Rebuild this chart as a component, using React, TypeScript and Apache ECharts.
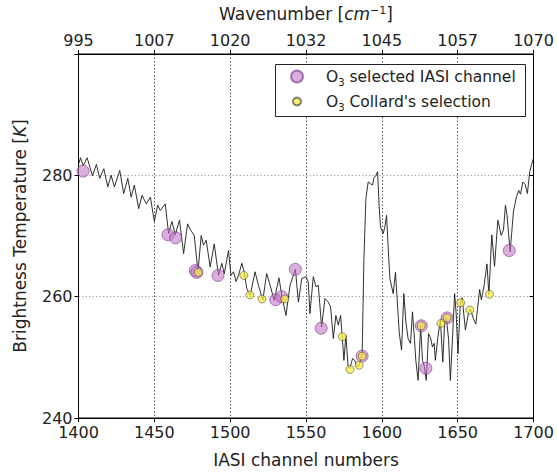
import React, { useEffect, useRef } from 'react';
import * as echarts from 'echarts';

const lineChannels = [
  1400.2, 1401.3, 1403.1, 1405.7, 1409.2, 1411.8, 1414.0, 1416.7, 1419.3, 1421.5,
  1423.7, 1427.2, 1429.8, 1432.5, 1434.7, 1436.8, 1439.7, 1441.9, 1444.7, 1447.4,
  1450.0, 1452.2, 1453.9, 1457.2, 1459.4, 1461.6, 1463.8, 1466.6, 1469.3, 1471.9,
  1474.1, 1476.3, 1478.8, 1480.9, 1482.4, 1484.2, 1486.8, 1489.5, 1492.3, 1494.5,
  1496.1, 1498.9, 1500.5, 1502.2, 1503.9, 1505.5, 1507.7, 1509.2, 1511.0, 1513.2,
  1516.4, 1518.6, 1521.5, 1524.1, 1526.3, 1529.0, 1532.2, 1534.0, 1536.8, 1539.5,
  1543.0, 1545.0, 1547.2, 1550.0, 1551.5, 1552.6, 1554.8, 1556.6, 1558.1, 1560.3,
  1562.5, 1564.7, 1566.2, 1568.0, 1569.7, 1571.3, 1572.8, 1573.9, 1575.0, 1576.3,
  1577.8, 1578.9, 1580.7, 1582.2, 1583.8, 1584.9, 1587.0, 1588.2, 1589.5, 1591.0,
  1592.6, 1593.9, 1594.7, 1596.1, 1597.2, 1598.2, 1599.1, 1600.9, 1602.0, 1603.1,
  1604.1, 1605.3, 1607.5, 1609.0, 1610.5, 1611.5, 1613.0, 1614.5, 1615.8, 1617.3,
  1618.9, 1620.2, 1621.3, 1622.4, 1623.9, 1625.6, 1626.8, 1628.0, 1629.3, 1630.8,
  1632.0, 1633.4, 1634.5, 1635.3, 1636.8, 1638.6, 1640.2, 1641.4, 1642.5, 1644.0,
  1645.2, 1647.0, 1648.0, 1649.0, 1650.2, 1651.8, 1653.0, 1655.1, 1657.3, 1658.3,
  1660.5, 1662.0, 1664.5, 1665.6, 1667.3, 1669.3, 1670.6, 1672.5, 1674.3, 1676.5,
  1678.7, 1680.2, 1681.5, 1682.5, 1684.6, 1686.8, 1688.8, 1690.3, 1691.4, 1693.0,
  1694.5, 1696.0, 1697.5, 1699.0, 1700.0,
];
const lineTemps = [
  281.9, 282.9, 281.6, 282.9, 279.9, 281.8, 279.5, 281.1, 278.1, 280.0,
  278.1, 280.8, 277.0, 279.5, 276.4, 278.4, 274.5, 276.7, 275.3, 276.4,
  272.4, 275.1, 274.2, 275.3, 270.4, 272.4, 270.2, 272.6, 267.1, 272.0,
  270.9, 270.1, 264.1, 270.1, 268.5, 269.3, 264.9, 268.7, 263.5, 265.5,
  263.8, 267.6, 263.5, 264.1, 262.5, 263.5, 265.5, 264.1, 261.3, 260.2,
  264.1, 261.9, 259.4, 263.8, 261.9, 259.4, 263.1, 260.2, 256.9, 261.9,
  264.5, 259.1, 263.0, 263.3, 262.4, 257.2, 263.3, 261.6, 261.9, 255.0,
  259.7, 259.1, 258.3, 253.1, 256.9, 255.3, 256.9, 253.4, 249.5, 253.6,
  248.4, 248.2, 249.8, 249.5, 248.4, 248.7, 250.3, 266.3, 276.2, 278.9,
  278.6, 278.4, 279.5, 280.0, 280.6, 275.1, 271.5, 270.4, 271.5, 273.4,
  268.5, 263.0, 260.5, 264.0, 258.0, 254.0, 251.2, 260.5, 256.0, 253.1,
  252.3, 257.5, 253.8, 249.5, 246.2, 255.2, 249.5, 248.5, 246.2, 253.9,
  253.3, 251.7, 252.3, 249.5, 253.0, 256.2, 249.2, 255.8, 256.6, 253.0,
  246.2, 255.3, 260.5, 257.3, 250.6, 259.2, 259.8, 254.5, 257.5, 258.0,
  256.3, 255.5, 261.2, 259.5, 261.6, 265.4, 260.4, 270.2, 265.0, 272.6,
  270.1, 271.0, 275.1, 273.5, 267.4, 274.1, 276.5, 277.5, 276.9, 278.9,
  278.5, 277.0, 280.6, 282.0, 282.8,
];

const selectedChannels = [1403, 1459, 1464, 1477, 1478, 1492, 1530, 1534, 1543, 1560, 1587, 1626, 1629, 1643, 1684];
const selectedTemps = [280.7, 270.2, 269.7, 264.3, 264.0, 263.5, 259.5, 260.0, 264.5, 254.8, 250.2, 255.2, 248.2, 256.5, 267.6];

const collardChannels = [1479, 1509, 1513, 1521, 1536, 1574, 1579, 1585, 1587, 1626, 1639, 1643, 1652, 1658, 1671];
const collardTemps = [264.0, 263.5, 260.3, 259.6, 259.6, 253.4, 248.0, 248.7, 250.2, 255.2, 255.6, 256.5, 259.0, 257.8, 260.4];

const channelMin = 1400;
const channelMax = 1700;
const channelStep = 50;
const wavenumberLabels = ['995', '1007', '1020', '1032', '1045', '1057', '1070'];
const tempMin = 240;
const tempMax = 300;
const tempStep = 20;

const SEL_NAME = 'O3 selected IASI channel';
const COL_NAME = "O3 Collard's selection";

const FONT = 'DejaVu Sans';
const TXT = '#222222';

export default function App() {
  const ref = useRef<HTMLDivElement>(null);
  useEffect(() => {
    const chart = echarts.init(ref.current!, null, { renderer: 'svg' });
    const zip = (a: number[], b: number[]) => a.map((v, i) => [v, b[i]]);
    const makeRich = (gap: number) => ({
      g: { width: gap, fontSize: 15.5, fontFamily: FONT },
      n: { fontSize: 15.5, fontFamily: FONT, color: TXT },
      s: { fontSize: 10, fontFamily: FONT, color: TXT, verticalAlign: 'bottom', padding: [0, 0, -3, 0] },
    });
    const legendFmt = (name: string) => '{g| }{n|O}{s|3}{n|' + name.slice(2) + '}';
    chart.setOption({
      animation: false,
      backgroundColor: '#ffffff',
      grid: { left: 78.5, right: 23.5, top: 54, bottom: 53.7, show: true, borderColor: '#000', borderWidth: 1 },
      graphic: [
        {
          type: 'rect',
          z: 1,
          shape: { x: 275.5, y: 64.5, width: 250, height: 52 },
          style: { fill: '#ffffff', stroke: '#222', lineWidth: 1 },
        },
      ],
      legend: [
        {
          data: [{ name: SEL_NAME, icon: 'circle' }],
          left: 290,
          top: 68.5,
          padding: 0,
          itemWidth: 12,
          itemHeight: 12,
          formatter: legendFmt,
          textStyle: { fontSize: 15.5, fontFamily: FONT, color: TXT, rich: makeRich(18) },
          z: 5,
        },
        {
          data: [{ name: COL_NAME, icon: 'circle' }],
          left: 292,
          top: 93.5,
          padding: 0,
          itemWidth: 8,
          itemHeight: 8,
          formatter: legendFmt,
          textStyle: { fontSize: 15.5, fontFamily: FONT, color: TXT, rich: makeRich(20) },
          z: 5,
        },
      ],
      xAxis: [
        {
          type: 'value',
          position: 'bottom',
          min: channelMin,
          max: channelMax,
          interval: channelStep,
          name: 'IASI channel numbers',
          nameLocation: 'middle',
          nameGap: 33,
          nameTextStyle: { fontSize: 17, fontFamily: FONT, color: TXT },
          axisLine: { lineStyle: { color: '#000', width: 1 } },
          axisTick: { show: true, length: 4, lineStyle: { color: '#000' } },
          axisLabel: { fontSize: 16, fontFamily: FONT, color: TXT, margin: 6, formatter: (v: number) => String(v) },
          splitLine: { show: true, lineStyle: { color: '#555', width: 1, type: [1.5, 2] } },
        },
        {
          type: 'value',
          position: 'top',
          min: channelMin,
          max: channelMax,
          interval: channelStep,
          name: 'Wavenumber [{it|cm}{sup|−1}]',
          nameLocation: 'middle',
          nameGap: 32,
          nameTextStyle: {
            fontSize: 17,
            fontFamily: FONT,
            color: TXT,
            rich: {
              it: { fontSize: 17, fontFamily: FONT, fontStyle: 'italic', color: TXT },
              sup: { fontSize: 11, fontFamily: FONT, color: TXT, verticalAlign: 'top', padding: [0, 0, 6, 0] },
            },
          },
          axisLine: { lineStyle: { color: '#000', width: 1 } },
          axisTick: { show: true, length: 4, lineStyle: { color: '#000' } },
          axisLabel: {
            fontSize: 16,
            fontFamily: FONT,
            color: TXT,
            margin: 6,
            formatter: (v: number) => wavenumberLabels[Math.round((v - channelMin) / channelStep)] ?? '',
          },
          splitLine: { show: false },
        },
      ],
      yAxis: [
        {
          type: 'value',
          position: 'left',
          min: tempMin,
          max: tempMax,
          interval: tempStep,
          name: 'Brightness Temperature [{it|K}]',
          nameLocation: 'middle',
          nameGap: 50,
          nameTextStyle: {
            fontSize: 17,
            fontFamily: FONT,
            color: TXT,
            rich: { it: { fontSize: 17, fontFamily: FONT, fontStyle: 'italic', color: TXT } },
          },
          axisLine: { show: true, lineStyle: { color: '#000', width: 1 } },
          axisTick: { show: true, length: 4, lineStyle: { color: '#000' } },
          axisLabel: {
            fontSize: 16,
            fontFamily: FONT,
            color: TXT,
            margin: 6,
            formatter: (v: number) => (v >= tempMax ? '' : String(v)),
          },
          splitLine: { show: true, lineStyle: { color: '#aaaaaa', width: 1, type: [1.5, 2] } },
        },
        {
          type: 'value',
          position: 'right',
          min: tempMin,
          max: tempMax,
          interval: tempStep,
          axisLine: { show: true, lineStyle: { color: '#000', width: 1 } },
          axisTick: { show: true, inside: true, length: 4, lineStyle: { color: '#000' } },
          axisLabel: { show: false },
          splitLine: { show: false },
        },
      ],
      series: [
        {
          type: 'line',
          name: 'spectrum',
          xAxisIndex: 0,
          yAxisIndex: 0,
          data: zip(lineChannels, lineTemps),
          showSymbol: false,
          symbol: 'none',
          lineStyle: { color: '#1a1a1a', width: 0.9 },
          z: 2,
        },
        {
          type: 'scatter',
          name: SEL_NAME,
          xAxisIndex: 0,
          yAxisIndex: 0,
          data: zip(selectedChannels, selectedTemps),
          symbol: 'circle',
          symbolSize: 12,
          itemStyle: { color: 'rgba(195,115,195,0.72)', borderColor: 'rgba(125,70,150,0.85)', borderWidth: 1 },
          z: 3,
        },
        {
          type: 'scatter',
          name: COL_NAME,
          xAxisIndex: 0,
          yAxisIndex: 0,
          data: zip(collardChannels, collardTemps),
          symbol: 'circle',
          symbolSize: 8,
          itemStyle: { color: 'rgba(248,236,60,0.9)', borderColor: 'rgba(60,60,60,0.8)', borderWidth: 0.8 },
          z: 4,
        },
      ],
    });
    return () => chart.dispose();
  }, []);
  return (
    <div
      ref={ref}
      style={{ position: 'fixed', left: 0, top: 0, width: 557, height: 473, background: '#fff' }}
    />
  );
}
